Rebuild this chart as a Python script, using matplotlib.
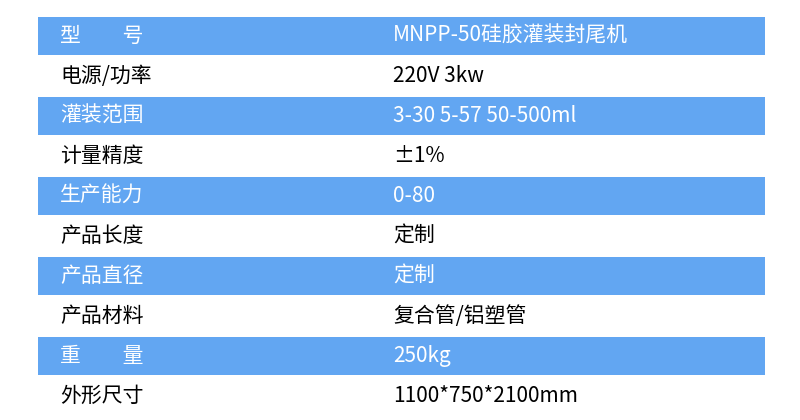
import matplotlib
matplotlib.use("Agg")
import matplotlib.pyplot as plt
from matplotlib.patches import Rectangle

plt.rcParams['font.family'] = ['Noto Sans CJK SC', 'DejaVu Sans']

labels = ["型　　号", "电源/功率", "灌装范围", "计量精度", "生产能力", "产品长度", "产品直径", "产品材料", "重　　量", "外形尺寸"]
values = ["MNPP-50硅胶灌装封尾机", "220V 3kw", "3-30 5-57 50-500ml", "±1%", "0-80", "定制", "定制", "复合管/铝塑管", "250kg", "1100*750*2100mm"]

fig = plt.figure(figsize=(8, 4.2), dpi=100)
ax = fig.add_axes([0, 0, 1, 1])
ax.set_xlim(0, 800)
ax.set_ylim(420, 0)
ax.axis('off')

top, h = 17, 40
blue = "#62a6f2"
for i, (lab, val) in enumerate(zip(labels, values)):
    y0 = top + i * h
    is_blue = i % 2 == 0
    if is_blue:
        ax.add_patch(Rectangle((38, y0), 727, h - 2, color=blue, lw=0))
    c = "white" if is_blue else "black"
    yc = y0 + h / 2 - 1
    ax.text(60, yc, lab, fontsize=15, color=c, va='center', ha='left')
    ax.text(393, yc, val, fontsize=15, color=c, va='center', ha='left')

fig.savefig("out.png", dpi=100)
